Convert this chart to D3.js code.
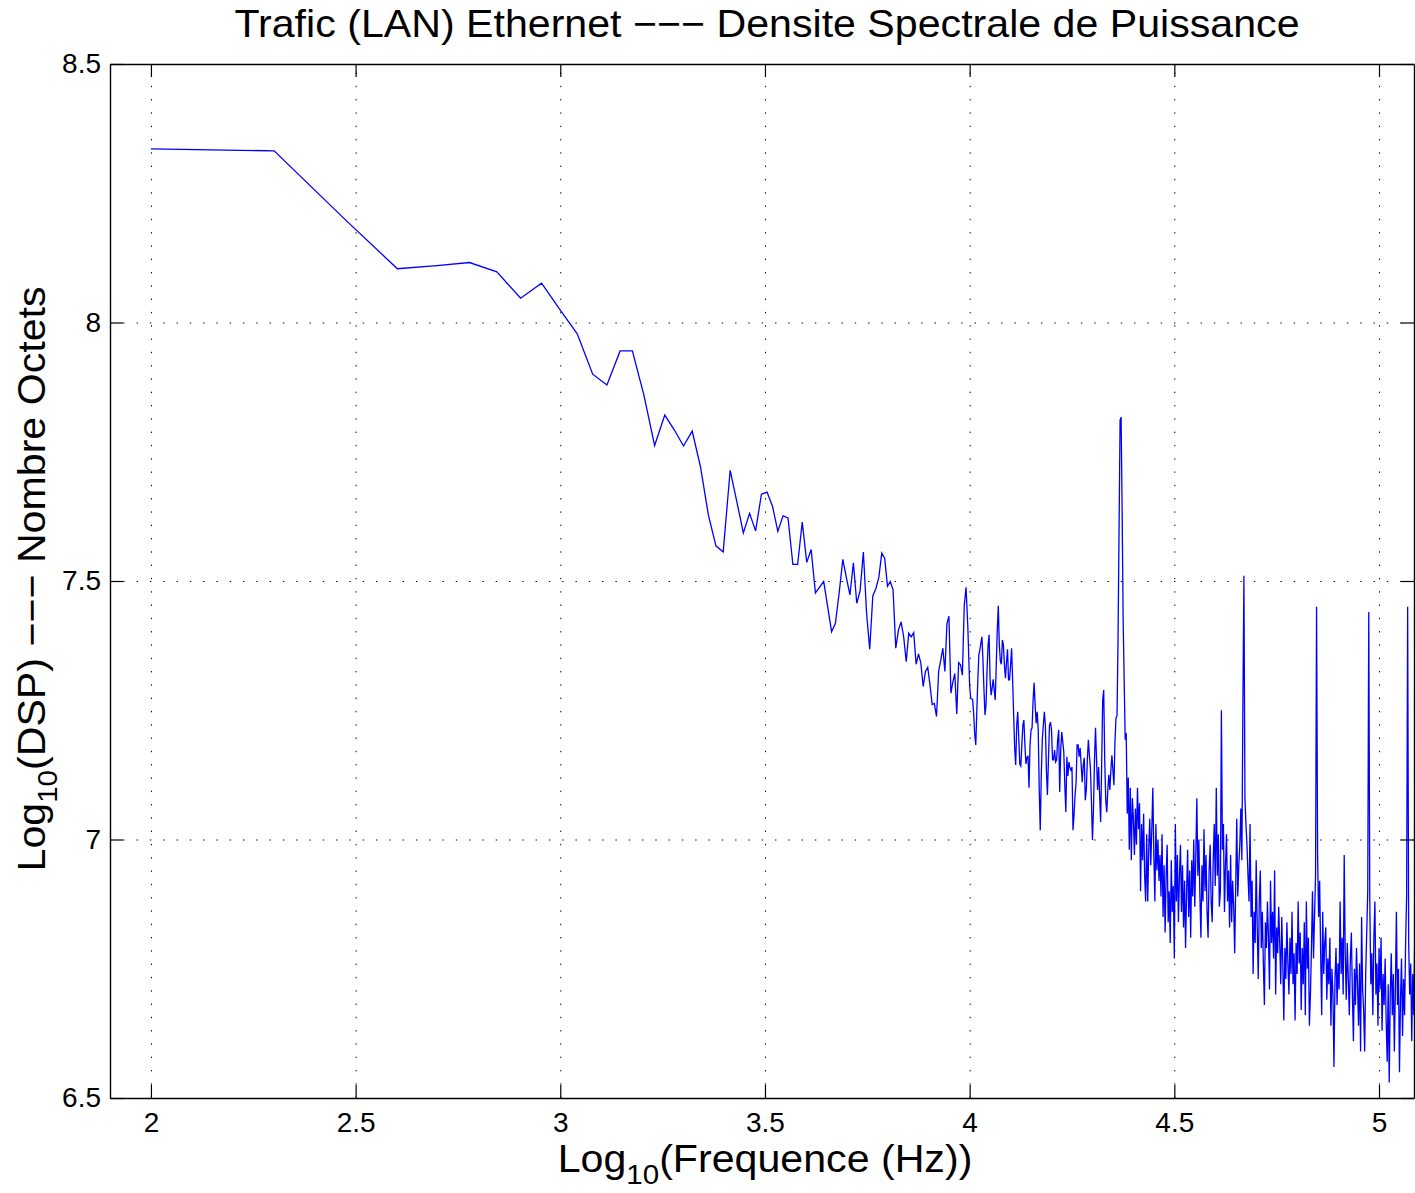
<!DOCTYPE html>
<html>
<head>
<meta charset="utf-8">
<script src="https://cdn.jsdelivr.net/npm/d3@7"></script>
<style>
  body { margin: 0; background: #fff; }
  text { font-family: "Liberation Sans", Arial, Helvetica, sans-serif; fill: #000; }
</style>
</head>
<body>
<div id="chart"></div>
<script>

// tick values
var xTicks = [2, 2.5, 3, 3.5, 4, 4.5, 5];
var yTicks = [6.5, 7, 7.5, 8, 8.5];

// low band: one value per 100 Hz bin, f = 100 .. 9900 Hz
var lowStepHz = 100;
var dspLow = [
  8.336, 8.332, 8.197, 8.104, 8.110, 8.116, 8.098, 8.047, 8.076, 8.024,
  7.978, 7.900, 7.879, 7.945, 7.945, 7.860, 7.762, 7.821, 7.792, 7.761,
  7.790, 7.721, 7.628, 7.568, 7.556, 7.714, 7.653, 7.593, 7.631, 7.597,
  7.668, 7.672, 7.644, 7.596, 7.626, 7.622, 7.532, 7.532, 7.614, 7.536,
  7.561, 7.477, 7.488, 7.499, 7.450, 7.402, 7.418, 7.477, 7.542, 7.506,
  7.473, 7.535, 7.457, 7.481, 7.556, 7.438, 7.368, 7.471, 7.485, 7.507,
  7.554, 7.544, 7.490, 7.499, 7.483, 7.370, 7.405, 7.421, 7.392, 7.344,
  7.399, 7.392, 7.400, 7.339, 7.359, 7.341, 7.296, 7.325, 7.333, 7.299,
  7.261, 7.263, 7.238, 7.325, 7.347, 7.370, 7.325, 7.417, 7.432, 7.283,
  7.305, 7.321, 7.243, 7.342, 7.338, 7.318, 7.452, 7.488, 7.410
];

// high band: read along log10(f) from 4.0 in steps of 0.0025
var highStartLog = 4.0;
var highStepLog = 0.0025;
var dspHigh = [
  7.297, 7.274, 7.272, 7.270, 7.241, 7.202, 7.183, 7.247, 7.309, 7.357,
  7.367, 7.380, 7.392, 7.347, 7.289, 7.241, 7.260, 7.328, 7.376, 7.396,
  7.309, 7.279, 7.293, 7.310, 7.289, 7.270, 7.337, 7.405, 7.452, 7.376,
  7.345, 7.339, 7.386, 7.376, 7.337, 7.312, 7.343, 7.368, 7.309, 7.309,
  7.337, 7.370, 7.309, 7.241, 7.177, 7.144, 7.221, 7.247, 7.196, 7.146,
  7.142, 7.183, 7.221, 7.231, 7.183, 7.146, 7.158, 7.162, 7.100, 7.183,
  7.212, 7.216, 7.270, 7.303, 7.260, 7.225, 7.247, 7.212, 7.096, 7.018,
  7.125, 7.193, 7.221, 7.247, 7.221, 7.134, 7.086, 7.154, 7.221, 7.227,
  7.212, 7.154, 7.154, 7.173, 7.150, 7.154, 7.193, 7.212, 7.092, 7.173,
  7.208, 7.189, 7.169, 7.105, 7.053, 7.160, 7.123, 7.150, 7.138, 7.134,
  7.140, 7.018, 7.047, 7.086, 7.109, 7.183, 7.183, 7.160, 7.177, 7.144,
  7.111, 7.144, 7.158, 7.076, 7.096, 7.154, 7.193, 7.163, 7.138, 7.076,
  6.999, 7.057, 7.154, 7.216, 7.154, 7.096, 7.140, 7.086, 7.034, 7.144,
  7.270, 7.289, 7.154, 7.076, 7.053, 7.096, 7.125, 7.096, 7.134, 7.163,
  7.134, 7.105, 7.189, 7.235, 7.239, 7.386, 7.599, 7.811, 7.817, 7.637,
  7.425, 7.309, 7.193, 7.206, 7.05, 7.12, 6.98, 7.10, 6.96, 7.08,
  7.04, 6.97, 7.06, 6.99, 7.10, 7.02, 7.07, 6.90, 7.03, 6.96,
  7.05, 6.93, 6.88, 7.01, 6.88, 6.98, 7.04, 6.95, 7.02, 7.10,
  6.97, 6.88, 7.03, 6.94, 7.00, 6.92, 6.97, 6.89, 7.01, 6.85,
  6.95, 6.82, 6.93, 6.99, 6.84, 6.90, 6.80, 6.96, 6.86, 6.91,
  6.77, 7.03, 6.88, 6.97, 6.84, 6.93, 6.99, 6.86, 6.95, 6.83,
  6.92, 6.79, 6.90, 6.98, 6.85, 6.94, 6.81, 6.96, 6.89, 7.00,
  6.87, 6.97, 7.08, 6.93, 7.00, 6.89, 6.81, 6.95, 6.88, 7.02,
  6.90, 6.97, 6.86, 6.81, 6.94, 6.99, 6.88, 6.84, 6.96, 7.03,
  6.91, 7.10, 6.93, 7.01, 6.87, 6.90, 7.25, 6.98, 7.03, 6.86,
  6.95, 7.01, 6.88, 6.94, 6.83, 6.97, 6.84, 6.92, 6.87, 6.78,
  6.91, 7.04, 6.89, 6.95, 6.99, 7.06, 6.96, 7.26, 7.51, 7.08,
  7.03, 6.99, 6.93, 6.88, 7.03, 6.85, 6.92, 6.74, 6.86, 6.80,
  6.96, 6.83, 6.73, 6.88, 6.94, 6.79, 6.86, 6.76, 6.68, 6.84,
  6.79, 6.88, 6.81, 6.71, 6.92, 6.80, 6.86, 6.77, 6.94, 6.70,
  6.83, 6.78, 6.87, 6.80, 6.72, 6.85, 6.76, 6.65, 6.79, 6.73,
  6.84, 6.76, 6.70, 6.81, 6.74, 6.86, 6.72, 6.78, 6.65, 6.80,
  6.74, 6.88, 6.76, 6.82, 6.67, 6.79, 6.72, 6.84, 6.66, 6.88,
  6.75, 6.81, 6.64, 6.70, 6.79, 6.90, 6.77, 6.85, 6.93, 7.45,
  6.97, 6.85, 6.92, 6.78, 6.66, 6.86, 6.74, 6.80, 6.83, 6.69,
  6.77, 6.72, 6.81, 6.64, 6.75, 6.70, 6.56, 6.73, 6.79, 6.68,
  6.76, 6.71, 6.88, 6.74, 6.81, 6.70, 6.97, 6.78, 6.69, 6.80,
  6.73, 6.66, 6.77, 6.82, 6.70, 6.61, 6.75, 6.68, 6.79, 6.72,
  6.64, 6.76, 6.59, 6.85, 6.71, 6.67, 6.59, 6.74, 6.82, 6.90,
  7.44, 6.88, 6.72, 6.78, 6.66, 6.81, 6.88, 6.70, 6.76, 6.64,
  6.79, 6.71, 6.81, 6.63, 6.74, 6.68, 6.77, 6.65, 6.57, 6.72,
  6.53, 6.70, 6.78, 6.66, 6.74, 6.59, 6.71, 6.86, 6.68, 6.75,
  6.55, 6.69, 6.77, 6.62, 6.73, 6.66, 6.80, 6.89, 7.45, 6.80,
  6.70, 6.76, 6.61, 6.74, 6.66, 6.83
];

var dash3 = "\u2212\u2212\u2212";
var titleText = "Trafic (LAN) Ethernet " + dash3 + " Densite Spectrale de Puissance";

// build the series
var series = [];
dspLow.forEach((v, i) => series.push({ lf: Math.log10((i + 1) * lowStepHz), v: v }));
dspHigh.forEach((v, i) => series.push({ lf: highStartLog + i * highStepLog, v: v }));

var W = 1415, H = 1193;
var box = { l: 110, r: 1414, t: 64, b: 1098 };
var stretch = 1.055;   // label glyphs a bit wider than plain Helvetica
var tickLen = 13;

var x = d3.scaleLinear().domain([1.9, 5.0855]).range([box.l, box.r]);
var y = d3.scaleLinear().domain([6.5, 8.5]).range([box.b, box.t]);

var svg = d3.select("#chart").append("svg")
    .attr("width", W)
    .attr("height", H);

svg.append("defs").append("clipPath").attr("id", "plotclip")
    .append("rect")
    .attr("x", box.l).attr("y", box.t)
    .attr("width", box.r - box.l).attr("height", box.b - box.t);

/* dotted grid */
svg.append("g")
    .attr("class", "grid")
    .attr("transform", `translate(0, ${box.b})`)
    .call(d3.axisBottom(x).tickValues(xTicks).tickSize(-(box.b - box.t)).tickFormat(""));
svg.append("g")
    .attr("class", "grid")
    .attr("transform", `translate(${box.l}, 0)`)
    .call(d3.axisLeft(y).tickValues(yTicks).tickSize(-(box.r - box.l)).tickFormat(""));
svg.selectAll(".grid .domain").remove();
svg.selectAll(".grid line")
    .style("stroke", "#000")
    .style("stroke-width", 1)
    .style("stroke-dasharray", "1.4,11.9");

/* data line */
var line = d3.line()
    .x(d => x(d.lf))
    .y(d => y(d.v));

svg.append("path")
    .datum(series)
    .attr("clip-path", "url(#plotclip)")
    .attr("d", line)
    .style("fill", "none")
    .style("stroke", "#0000ff")
    .style("stroke-width", 1.3)
    .style("stroke-linejoin", "miter");

/* axes, ticks pointing inward on all four sides */
var xAxisB = svg.append("g")
    .attr("transform", `translate(0, ${box.b})`)
    .call(d3.axisBottom(x).tickValues(xTicks).tickSizeInner(-tickLen).tickSizeOuter(0)
        .tickPadding(14).tickFormat(d3.format("")));
svg.append("g")
    .attr("transform", `translate(0, ${box.t})`)
    .call(d3.axisTop(x).tickValues(xTicks).tickSizeInner(-tickLen).tickSizeOuter(0).tickFormat(""));
var yAxisL = svg.append("g")
    .attr("transform", `translate(${box.l}, 0)`)
    .call(d3.axisLeft(y).tickValues(yTicks).tickSizeInner(-tickLen).tickSizeOuter(0)
        .tickPadding(9).tickFormat(d3.format("")));
svg.append("g")
    .attr("transform", `translate(${box.r}, 0)`)
    .call(d3.axisRight(y).tickValues(yTicks).tickSizeInner(-tickLen).tickSizeOuter(0).tickFormat(""));

svg.selectAll(".domain").style("stroke", "#000").style("stroke-width", 1.4);
svg.selectAll(".tick line").filter(function() { return !this.closest(".grid"); })
    .style("stroke", "#000").style("stroke-width", 1.2);

xAxisB.selectAll("text").style("font-size", "28px");
yAxisL.selectAll("text").style("font-size", "28px");

// Title
svg.append("text")
    .attr("transform", `translate(767, 37) scale(${stretch},1)`)
    .attr("text-anchor", "middle")
    .style("font-size", "39px")
    .text(titleText);

// x label with subscript
var xl = svg.append("text")
    .attr("transform", `translate(765, 1172) scale(${stretch},1)`)
    .attr("text-anchor", "middle")
    .style("font-size", "39px");
xl.append("tspan").text("Log");
xl.append("tspan").attr("dy", 12).style("font-size", "28px").text("10");
xl.append("tspan").attr("dy", -12).text("(Frequence (Hz))");

// y label with subscript
var yl = svg.append("text")
    .attr("transform", `translate(45, 579) rotate(-90) scale(${stretch},1)`)
    .attr("text-anchor", "middle")
    .style("font-size", "39px");
yl.append("tspan").text("Log");
yl.append("tspan").attr("dy", 12).style("font-size", "28px").text("10");
yl.append("tspan").attr("dy", -12).text("(DSP) " + dash3 + " Nombre Octets");

</script>
</body>
</html>
